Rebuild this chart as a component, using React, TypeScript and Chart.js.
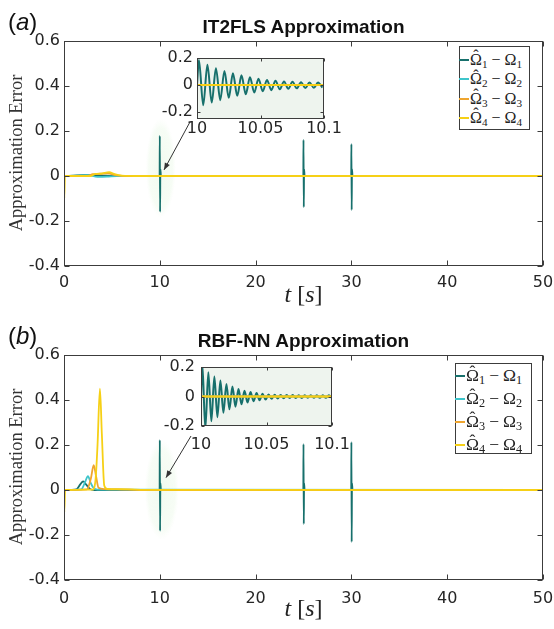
import React, { useEffect, useRef } from "react";
import { Chart, registerables } from "chart.js";
Chart.register(...registerables);

// ---------- colours ----------
const C1 = "#17706c";
const C2 = "#3ec5cb";
const C3 = "#efa52f";
const C4 = "#f6d016";
const seriesColors = [C1, C2, C3, C4];
const legendIdx = ["1", "2", "3", "4"];

// ---------- ticks ----------
const xTicksMain = [0, 10, 20, 30, 40, 50];
const yTicksMain = [-0.4, -0.2, 0, 0.2, 0.4, 0.6];
const xTicksInset = [10, 10.05, 10.1];
const yTicksInset = [-0.2, 0, 0.2];

// ---------- (a) IT2FLS main ----------
const it1T = [0, 1, 2, 3, 4, 5, 9.98, 10, 10.03, 10.06, 10.12, 24.98, 25, 25.03, 25.06, 25.12, 29.98, 30, 30.03, 30.06, 30.12, 50];
const it1V = [0, 0.002, 0.004, 0.003, 0.002, 0, 0, 0.178, -0.159, 0.03, 0, 0, 0.16, -0.138, 0.03, 0, 0, 0.142, -0.151, 0.03, 0, 0];
const it2T = [0, 1.5, 2.5, 3.5, 4.5, 5.5, 50];
const it2V = [0, 0.002, 0.004, -0.004, -0.003, 0, 0];
const it3T = [0, 2.5, 3, 3.8, 4.5, 5.5, 7, 50];
const it3V = [0, 0, 0.008, 0.01, 0.012, 0.003, 0, 0];
const it4T = [0, 0.03, 0.1, 2.8, 3.2, 4, 4.7, 5.3, 6, 8, 50];
const it4V = [0.12, -0.098, 0, 0, 0.008, 0.012, 0.017, 0.008, 0.002, 0, 0];

// ---------- (b) RBF-NN main ----------
const rb1T = [0, 1.3, 1.7, 2.0, 2.3, 2.7, 3.2, 9.98, 10, 10.03, 10.06, 10.12, 24.98, 25, 25.03, 25.06, 25.12, 29.98, 30, 30.03, 30.06, 30.12, 50];
const rb1V = [0, 0.003, 0.025, 0.038, 0.025, 0.005, 0, 0, 0.222, -0.182, 0.03, 0, 0, 0.204, -0.151, 0.03, 0, 0, 0.213, -0.231, 0.03, 0, 0];
const rb2T = [0, 1.8, 2.2, 2.5, 2.8, 3.1, 3.5, 50];
const rb2V = [0, 0.003, 0.035, 0.062, 0.03, 0.008, 0.002, 0];
const rb3T = [0, 2.4, 2.8, 3.1, 3.35, 3.6, 4.2, 6, 8, 50];
const rb3V = [0, 0.003, 0.05, 0.11, 0.06, 0.01, 0.004, 0.002, 0, 0];
const rb4T = [0, 0.03, 0.12, 3.0, 3.3, 3.5, 3.75, 3.95, 4.2, 4.5, 6, 8, 50];
const rb4V = [0.124, -0.098, 0, 0.002, 0.05, 0.2, 0.45, 0.25, 0.02, 0.005, 0.004, 0.001, 0];

// ---------- insets (zoom of t = 10 .. 10.1) ----------
const inTopT = [10.0, 10.0015, 10.0049, 10.0082, 10.0116, 10.0149, 10.0183, 10.0216, 10.025, 10.0283, 10.0317, 10.035, 10.0384, 10.0417, 10.0451, 10.0484, 10.0518, 10.0551, 10.0585, 10.0618, 10.0652, 10.0685, 10.0719, 10.0752, 10.0786, 10.0819, 10.0853, 10.0886, 10.092, 10.0953, 10.0987];
const inTopV = [0.0, 0.185, -0.148, 0.15, -0.128, 0.125, -0.111, 0.105, -0.094, 0.088, -0.079, 0.072, -0.067, 0.058, -0.055, 0.047, -0.045, 0.038, -0.037, 0.032, -0.031, 0.027, -0.027, 0.024, -0.024, 0.022, -0.022, 0.02, -0.02, 0.019, -0.019];
const inBotT = [10.0, 10.001, 10.0033, 10.0056, 10.0079, 10.0102, 10.0125, 10.0148, 10.0171, 10.0194, 10.0217, 10.024, 10.0263, 10.0286, 10.0309, 10.0332, 10.0355, 10.0378, 10.0401, 10.0424, 10.0447, 10.047, 10.0493, 10.0516, 10.0539, 10.0562, 10.0585, 10.0608, 10.0631, 10.0654, 10.0677, 10.07, 10.0723, 10.0746, 10.0769, 10.0792, 10.0815, 10.0838, 10.0861, 10.0884, 10.0907, 10.093, 10.0953, 10.0976, 10.0999];
const inBotV = [0.0, 0.22, -0.22, 0.165, -0.168, 0.136, -0.14, 0.108, -0.11, 0.085, -0.087, 0.067, -0.069, 0.05, -0.053, 0.039, -0.041, 0.03, -0.032, 0.023, -0.025, 0.018, -0.021, 0.014, -0.016, 0.012, -0.014, 0.011, -0.012, 0.01, -0.011, 0.01, -0.01, 0.009, -0.01, 0.009, -0.009, 0.009, -0.009, 0.008, -0.009, 0.008, -0.008, 0.008, -0.008];
const inZeroT = [10, 10.1];
const inZeroV = [0, 0];

// ---------- styles ----------
const TICK_FONT = { family: "'DejaVu Sans', sans-serif", size: 16 };
const TICK_COLOR = "#262626";
const FRAME_COLOR = "#3c3c3c";

const pts = (t: number[], v: number[]) => t.map((x, i) => ({ x, y: v[i] }));

function lineDs(t: number[], v: number[], color: string, order: number, width = 1.8) {
  return {
    data: pts(t, v),
    borderColor: color,
    backgroundColor: color,
    borderWidth: width,
    pointRadius: 0,
    fill: false,
    cubicInterpolationMode: "monotone" as const,
    order,
  };
}

function framePlugin(len: number, bg?: string) {
  return {
    id: "frameTicks",
    beforeDatasetsDraw(chart: any) {
      if (!bg) return;
      const a = chart.chartArea;
      const ctx = chart.ctx;
      ctx.save();
      ctx.fillStyle = bg;
      ctx.fillRect(a.left, a.top, a.right - a.left, a.bottom - a.top);
      ctx.restore();
    },
    afterDatasetsDraw(chart: any) {
      const ctx = chart.ctx;
      const a = chart.chartArea;
      const xs = chart.scales.x;
      const ys = chart.scales.y;
      const L = Math.round(a.left) + 0.5;
      const R = Math.round(a.right) - 0.5;
      const T = Math.round(a.top) + 0.5;
      const B = Math.round(a.bottom) - 0.5;
      ctx.save();
      ctx.strokeStyle = FRAME_COLOR;
      ctx.lineWidth = 1;
      ctx.beginPath();
      xs.ticks.forEach((t: any) => {
        const p = Math.round(xs.getPixelForValue(t.value)) + 0.5;
        ctx.moveTo(p, B);
        ctx.lineTo(p, B - len);
        ctx.moveTo(p, T);
        ctx.lineTo(p, T + len);
      });
      ys.ticks.forEach((t: any) => {
        const p = Math.round(ys.getPixelForValue(t.value)) + 0.5;
        ctx.moveTo(L, p);
        ctx.lineTo(L + len, p);
        ctx.moveTo(R, p);
        ctx.lineTo(R - len, p);
      });
      ctx.stroke();
      ctx.strokeRect(L, T, R - L, B - T);
      ctx.restore();
    },
  };
}

type Glow = { x: number; y: number; rx: number; ry: number };
type Arrow = { x0: number; y0: number; x1: number; y1: number };

function annotPlugin(g: Glow, ar: Arrow) {
  return {
    id: "annot",
    beforeDatasetsDraw(chart: any) {
      const ctx = chart.ctx;
      const xs = chart.scales.x;
      const ys = chart.scales.y;
      const cx = xs.getPixelForValue(g.x);
      const cy = ys.getPixelForValue(g.y);
      ctx.save();
      ctx.translate(cx, cy);
      ctx.scale(1, g.ry / g.rx);
      const grd = ctx.createRadialGradient(0, 0, 0, 0, 0, g.rx);
      grd.addColorStop(0, "rgba(215,242,210,0.35)");
      grd.addColorStop(0.8, "rgba(225,246,220,0.28)");
      grd.addColorStop(1, "rgba(235,248,230,0)");
      ctx.fillStyle = grd;
      ctx.beginPath();
      ctx.arc(0, 0, g.rx, 0, Math.PI * 2);
      ctx.fill();
      ctx.restore();
    },
    afterDatasetsDraw(chart: any) {
      const ctx = chart.ctx;
      const xs = chart.scales.x;
      const ys = chart.scales.y;
      const x0 = xs.getPixelForValue(ar.x0);
      const y0 = ys.getPixelForValue(ar.y0);
      const x1 = xs.getPixelForValue(ar.x1);
      const y1 = ys.getPixelForValue(ar.y1);
      ctx.save();
      ctx.strokeStyle = "#333";
      ctx.fillStyle = "#333";
      ctx.lineWidth = 1;
      ctx.beginPath();
      ctx.moveTo(x0, y0);
      ctx.lineTo(x1, y1);
      ctx.stroke();
      const ang = Math.atan2(y1 - y0, x1 - x0);
      const hl = 7;
      const hw = 2.8;
      const c = Math.cos(ang);
      const s = Math.sin(ang);
      ctx.beginPath();
      ctx.moveTo(x1, y1);
      ctx.lineTo(x1 - hl * c + hw * s, y1 - hl * s - hw * c);
      ctx.lineTo(x1 - hl * c - hw * s, y1 - hl * s + hw * c);
      ctx.closePath();
      ctx.fill();
      ctx.restore();
    },
  };
}

function axisOpts(min: number, max: number, ticks: number[], fitKey: "width" | "height", fitVal: number, pad: number) {
  return {
    type: "linear" as const,
    min,
    max,
    grid: { display: false, drawTicks: false },
    border: { display: false },
    afterBuildTicks: (s: any) => {
      s.ticks = ticks.map((v) => ({ value: v }));
    },
    afterFit: (s: any) => {
      s[fitKey] = fitVal;
      s.paddingLeft = 0;
      s.paddingRight = 0;
      s.paddingTop = 0;
      s.paddingBottom = 0;
    },
    ticks: {
      callback: (v: any) => String(v),
      font: TICK_FONT,
      color: TICK_COLOR,
      padding: pad,
      autoSkip: false,
      maxRotation: 0,
      minRotation: 0,
    },
  };
}

function mainConfig(series: [number[], number[]][], xh: number, xPad: number, g: Glow, ar: Arrow): any {
  return {
    type: "line",
    data: {
      datasets: series.map(([t, v], i) => lineDs(t, v, seriesColors[i], 3 - i)),
    },
    options: {
      responsive: false,
      animation: false,
      events: [],
      layout: { padding: { top: 41, right: 11, left: 0, bottom: 0 } },
      plugins: { legend: { display: false }, tooltip: { enabled: false }, title: { display: false } },
      scales: {
        x: axisOpts(0, 50, xTicksMain, "height", xh, xPad),
        y: axisOpts(-0.4, 0.6, yTicksMain, "width", 64, 4),
      },
    },
    plugins: [annotPlugin(g, ar), framePlugin(5)],
  };
}

function insetConfig(osc: [number[], number[]], yMin: number, yMax: number, yw: number, xh: number, right: number, xPad: number, yPad: number): any {
  return {
    type: "line",
    data: {
      datasets: [
        lineDs(osc[0], osc[1], C1, 3, 2),
        lineDs(inZeroT, inZeroV, C2, 2, 2),
        lineDs(inZeroT, inZeroV, C3, 1, 2),
        lineDs(inZeroT, inZeroV, C4, 0, 2),
      ],
    },
    options: {
      responsive: false,
      animation: false,
      events: [],
      layout: { padding: { top: 10, right, left: 0, bottom: 0 } },
      plugins: { legend: { display: false }, tooltip: { enabled: false }, title: { display: false } },
      scales: {
        x: axisOpts(10, 10.1, xTicksInset, "height", xh, xPad),
        y: axisOpts(yMin, yMax, yTicksInset, "width", yw, yPad),
      },
    },
    plugins: [framePlugin(3, "#eef4ee")],
  };
}

const abs = (left: number, top: number, extra: React.CSSProperties = {}): React.CSSProperties => ({
  position: "absolute",
  left,
  top,
  ...extra,
});

function Hat({ children }: { children: React.ReactNode }) {
  return (
    <span style={{ position: "relative", display: "inline-block", lineHeight: 1 }}>
      {children}
      <span
        style={{
          position: "absolute",
          left: 0,
          right: 0,
          top: "-0.24em",
          lineHeight: 1,
          textAlign: "center",
        }}
      >
        {"\u02C6"}
      </span>
    </span>
  );
}

function Legend({ left, top, width, height, rowTop, rowH, fontSize }: { left: number; top: number; width: number; height: number; rowTop: number; rowH: number; fontSize: number }) {
  const subStyle: React.CSSProperties = { fontSize: "70%", verticalAlign: "-0.28em", lineHeight: 0 };
  return (
    <div
      style={abs(left, top, {
        width,
        height,
        boxSizing: "border-box",
        border: "1px solid #3c3c3c",
        background: "#fff",
      })}
    >
      {seriesColors.map((c, i) => (
        <div
          key={i}
          style={abs(-1, rowTop + i * rowH, {
            height: rowH,
            display: "flex",
            alignItems: "center",
            whiteSpace: "nowrap",
          })}
        >
          <div style={{ width: 10, height: 2, background: c }} />
          <span
            style={{
              fontFamily: "'Liberation Serif', serif",
              fontSize,
              lineHeight: 1,
              marginLeft: 1,
              color: "#222",
            }}
          >
            <Hat>{"\u03A9"}</Hat>
            <sub style={subStyle}>{legendIdx[i]}</sub>
            <span style={{ margin: "0 4px" }}>{"\u2212"}</span>
            {"\u03A9"}
            <sub style={subStyle}>{legendIdx[i]}</sub>
          </span>
        </div>
      ))}
    </div>
  );
}

function Panel({ dy, letter, title }: { dy: number; letter: string; title: string }) {
  return (
    <>
      <div style={abs(8, 10 + dy, { fontFamily: "'Liberation Sans', Arial, sans-serif", fontSize: 24, lineHeight: 1, color: "#111" })}>
        (<i>{letter}</i>)
      </div>
      <div
        style={abs(64, 16.5 + dy, {
          width: 479,
          textAlign: "center",
          fontFamily: "'Liberation Sans', Arial, sans-serif",
          fontWeight: "bold",
          fontSize: 19,
          lineHeight: 1,
          color: "#111",
        })}
      >
        {title}
      </div>
      <div
        style={abs(16, 153 + dy, {
          transform: "translate(-50%, -50%) rotate(-90deg)",
          fontFamily: "'Liberation Serif', serif",
          fontSize: 18.5,
          lineHeight: 1,
          whiteSpace: "nowrap",
          color: "#333",
        })}
      >
        Approximation Error
      </div>
      <div
        style={abs(64, 282 + dy, {
          width: 479,
          textAlign: "center",
          fontFamily: "'Liberation Serif', serif",
          fontSize: 24,
          lineHeight: 1,
          color: "#222",
        })}
      >
        <i>t</i> [<i>s</i>]
      </div>
    </>
  );
}

export default function App() {
  const topRef = useRef<HTMLCanvasElement>(null);
  const botRef = useRef<HTMLCanvasElement>(null);
  const topInRef = useRef<HTMLCanvasElement>(null);
  const botInRef = useRef<HTMLCanvasElement>(null);

  useEffect(() => {
    const charts: Chart[] = [];
    charts.push(
      new Chart(
        topRef.current!,
        mainConfig(
          [
            [it1T, it1V],
            [it2T, it2V],
            [it3T, it3V],
            [it4T, it4V],
          ],
          48,
          7,
          { x: 10.1, y: 0.036, rx: 15, ry: 50 },
          { x0: 13.15, y0: 0.24, x1: 10.44, y1: 0.027 }
        )
      )
    );
    charts.push(
      new Chart(
        botRef.current!,
        mainConfig(
          [
            [rb1T, rb1V],
            [rb2T, rb2V],
            [rb3T, rb3V],
            [rb4T, rb4V],
          ],
          49,
          9,
          { x: 10.2, y: 0.0, rx: 17, ry: 50 },
          { x0: 13.26, y0: 0.24, x1: 10.65, y1: 0.055 }
        )
      )
    );
    charts.push(new Chart(topInRef.current!, insetConfig([inTopT, inTopV], -0.25, 0.2, 47, 24, 26, 0, 4)));
    charts.push(new Chart(botInRef.current!, insetConfig([inBotT, inBotV], -0.2, 0.2, 51, 33, 28, 9, 6)));
    return () => charts.forEach((c) => c.destroy());
  }, []);

  return (
    <div style={abs(0, 0, { width: 554, height: 629, background: "#fff", overflow: "hidden" })}>
      <canvas ref={topRef} width={554} height={314} style={abs(0, 0, { width: 554, height: 314 })} />
      <canvas ref={botRef} width={554} height={315} style={abs(0, 314, { width: 554, height: 315 })} />
      <canvas ref={topInRef} width={200} height={95} style={abs(150, 48, { width: 200, height: 95 })} />
      <canvas ref={botInRef} width={210} height={102} style={abs(150, 357, { width: 210, height: 102 })} />
      <Panel dy={0} letter="a" title="IT2FLS Approximation" />
      <Panel dy={314} letter="b" title="RBF-NN Approximation" />
      <Legend left={459} top={46} width={71} height={84} rowTop={3.3} rowH={19.4} fontSize={16} />
      <Legend left={455} top={363} width={77} height={91} rowTop={0} rowH={23} fontSize={17.5} />
    </div>
  );
}
